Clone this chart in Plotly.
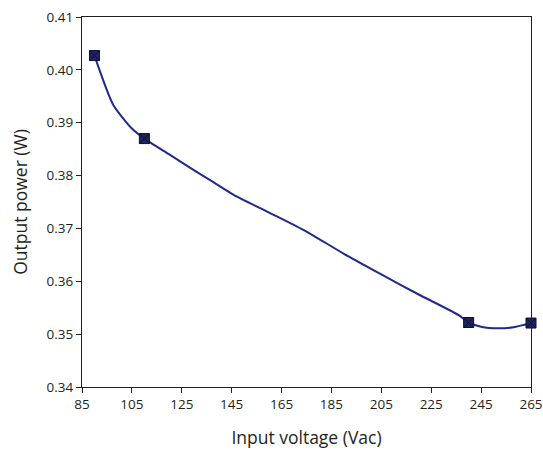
import plotly.graph_objects as go

# Measured points (markers)
meas_v = [90, 110, 240, 265]
meas_p = [0.4027, 0.3870, 0.3522, 0.3521]

# Smoothed curve
curve_v = [90, 97.5, 105, 110, 120, 130, 137.5, 146, 160, 175, 190, 205, 220, 236, 240, 245, 252, 258, 265]
curve_p = [0.4027, 0.3934, 0.3889, 0.3870, 0.3840, 0.3810, 0.3788, 0.3763, 0.3730, 0.3694, 0.3652, 0.3613, 0.3575, 0.3536, 0.3522, 0.3514, 0.3511, 0.3513, 0.3521]

x_ticks = [85, 105, 125, 145, 165, 185, 205, 225, 245, 265]
y_ticks = [0.34, 0.35, 0.36, 0.37, 0.38, 0.39, 0.40, 0.41]

font_family = "Open Sans, Liberation Sans, sans-serif"

fig = go.Figure()
fig.add_trace(go.Scatter(
    x=curve_v, y=curve_p, mode="lines",
    line=dict(color="#1f2b8a", width=2, shape="spline", smoothing=0.6),
    hoverinfo="skip", showlegend=False, cliponaxis=False,
))
fig.add_trace(go.Scatter(
    x=meas_v, y=meas_p, mode="markers",
    marker=dict(symbol="square-x", size=10, color="#1e2462",
                line=dict(color="#0d0f30", width=1)),
    showlegend=False, cliponaxis=False,
))

fig.update_layout(
    width=543, height=450,
    margin=dict(l=82, r=12, t=17, b=63, autoexpand=False),
    paper_bgcolor="white", plot_bgcolor="white",
    font=dict(family=font_family, size=13.5, color="#231f20"),
    xaxis=dict(
        range=[85, 265], tickmode="array", tickvals=x_ticks,
        ticks="outside", ticklen=5, tickcolor="#231f20",
        showline=True, linecolor="#231f20", linewidth=1, mirror=True,
        showgrid=False, zeroline=False, automargin=False,
        ticklabeloverflow="allow",
        title=dict(text="Input voltage (Vac)", font=dict(size=17.5), standoff=19),
        tickfont=dict(size=13.5),
    ),
    yaxis=dict(
        range=[0.34, 0.41], tickmode="array", tickvals=y_ticks, tickformat=".2f",
        ticks="outside", ticklen=5, tickcolor="#231f20",
        showline=True, linecolor="#231f20", linewidth=1, mirror=True,
        showgrid=False, zeroline=False, automargin=False,
        ticklabeloverflow="allow",
        title=dict(text="Output power (W)", font=dict(size=17.5), standoff=14),
        tickfont=dict(size=13.5),
    ),
)

fig.write_html("out.html", config={"displayModeBar": False},
               post_script="document.body.style.margin='0';")
